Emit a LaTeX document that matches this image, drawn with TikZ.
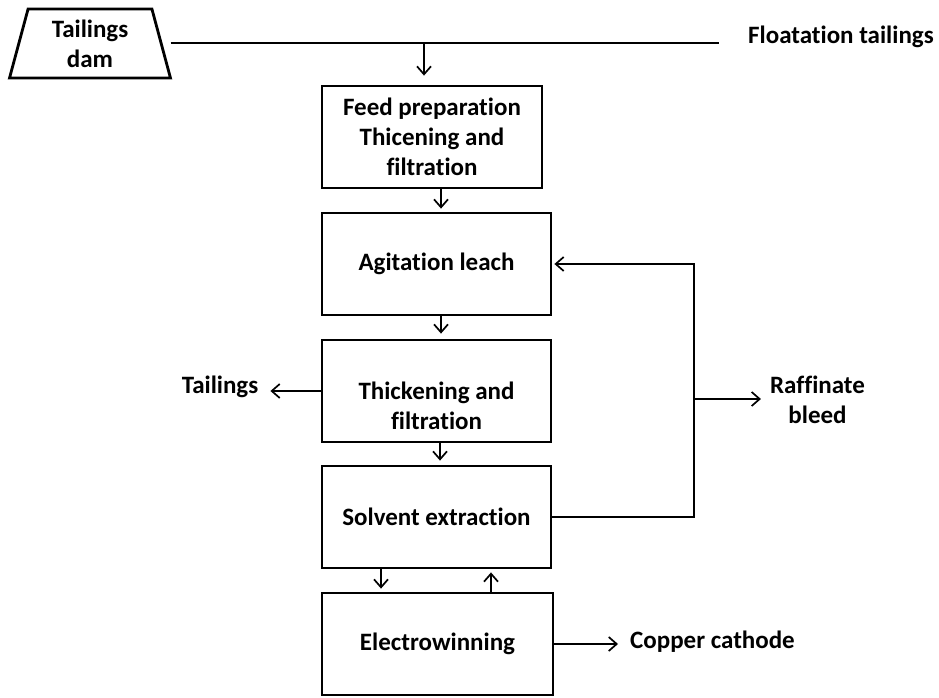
\documentclass[tikz,border=0pt]{standalone}
\usepackage{fontspec}
\setmainfont{Carlito}[Ligatures=NoCommon]
\usetikzlibrary{arrows.meta,shapes.geometric}
\begin{document}
\begin{tikzpicture}[x=1pt,y=-1pt,
  txt/.style={font=\fontsize{25}{30}\selectfont\bfseries},
  box/.style={txt,draw,line width=2.8pt,minimum height=102pt,inner sep=0pt,align=center},
  lbl/.style={txt,inner sep=0pt,align=center},
  conn/.style={line width=1.7pt},
  arr/.style={conn,-{Straight Barb[length=8pt,width=14pt,line width=1.7pt]}},
]
\useasboundingbox (0,0) rectangle (939,698);

\node[txt,trapezium,trapezium angle=76.5,trapezium stretches=true,minimum width=162pt,minimum height=69pt,draw,line width=2.8pt,inner sep=0pt,align=center] (dam) at (90,43.5) {Tailings\\dam};

\node[box,minimum width=220pt] (b1) at (432,137) {Feed preparation\\Thicening and\\filtration};
\node[box,minimum width=229pt] (b2) at (436.5,264) {Agitation leach};
\node[box,minimum width=229pt] (b3) at (436.5,391) {};
\node[lbl] (b3t) at (436.5,406) {Thickening and\\filtration};
\node[box,minimum width=229pt] (b4) at (436.5,517) {Solvent extraction};
\node[box,minimum width=231pt] (b5) at (437.5,644) {Electrowinning};

\node[lbl,anchor=west] (ft) at (748,37) {Floatation tailings};
\node[lbl] (tl) at (220,387) {Tailings};
\node[lbl] (rb) at (817.5,400) {Raffinate\\bleed};
\node[lbl,anchor=west] (cc) at (630,642) {Copper cathode};

\coordinate (fe) at (719,43);
\coordinate (j1) at (424,43);
\coordinate (r1) at (694,517);
\coordinate (r3) at (694,399);

% feed line
\draw[conn] ([xshift=8pt]dam.east |- fe) -- (fe);
\draw[arr,shorten >=9pt] (j1) -- ([xshift=-8pt]b1.north);

% main chain
\draw[arr,shorten >=3pt] ([xshift=9pt]b1.south) -- ([xshift=4.5pt]b2.north);
\draw[arr,shorten >=5pt] ([xshift=4.5pt]b2.south) -- ([xshift=4.5pt]b3.north);
\draw[arr,shorten >=4pt] ([xshift=3.5pt]b3.south) -- ([xshift=3.5pt]b4.north);
\draw[arr,shorten >=3pt] ([xshift=-55.5pt]b4.south) -- ([xshift=-56.5pt]b5.north);
\draw[arr,shorten >=3pt] ([xshift=53.5pt]b5.north) -- ([xshift=54.5pt]b4.south);

% outputs
\draw[arr,shorten >=12pt] (b3.west) -- (tl.east |- b3.west);
\draw[arr,shorten >=12pt] (b5.east) -- (cc.west |- b5.east);

% recycle
\draw[arr,shorten >=2pt] (b4.east) -- (r1) |- (b2.east);
\draw[arr,shorten >=9pt] (r3) -- (rb.west |- r3);
\end{tikzpicture}
\end{document}
